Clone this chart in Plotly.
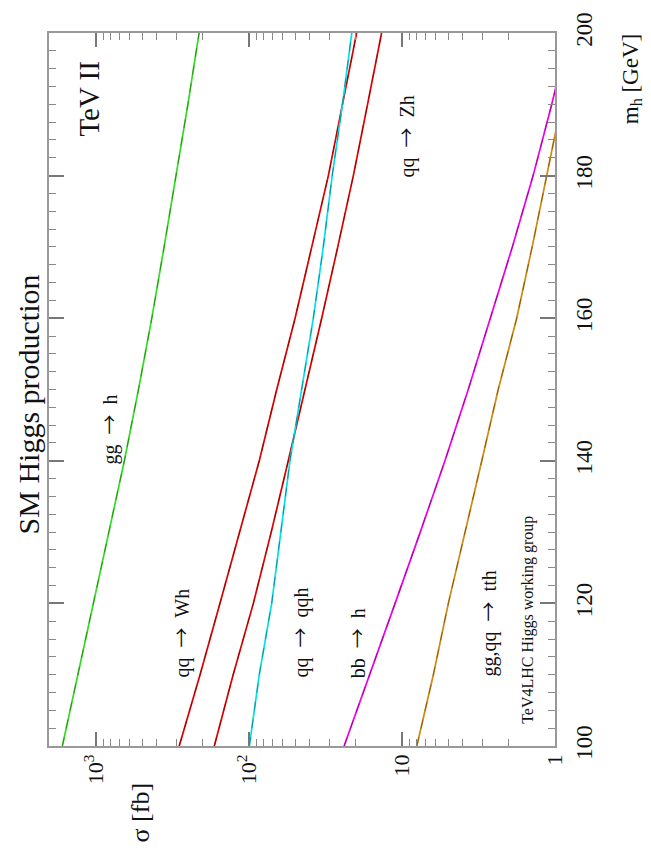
import numpy as np
import plotly.graph_objects as go

# Higgs mass grid (GeV)
mh = [100, 110, 120, 130, 140, 150, 160, 170, 180, 190, 200]

# Cross sections sigma [fb]
gg_h   = [1660, 1318, 1047, 822, 653, 528, 432, 359, 300, 251, 212]
qq_Wh  = [286, 209, 155, 115, 85.7, 65.9, 50.0, 38.9, 30.3, 24.5, 19.8]
qq_Zh  = [168.6, 127, 93.7, 71.6, 55.4, 43.0, 33.5, 26.3, 20.8, 16.8, 13.6]
qq_qqh = [99.5, 85.7, 71.1, 61.7, 54.0, 45.3, 38.0, 32.7, 28.6, 24.5, 21.3]
bb_h   = [23.9, 16.2, 11.1, 7.6, 5.24, 3.69, 2.66, 1.90, 1.39, 1.05, 0.81]
tt_h   = [8.0, 6.24, 4.98, 3.85, 3.01, 2.35, 1.78, 1.41, 1.13, 0.91, 0.74]

series = [
    (gg_h,   "#33dd22"),
    (qq_Wh,  "#e00000"),
    (qq_Zh,  "#e00000"),
    (qq_qqh, "#00e0ee"),
    (bb_h,   "#ee00ee"),
    (tt_h,   "#d08a10"),
]

sigma_ticks = [1, 10, 100, 1000]
sigma_ticktext = ["1", "10", "10<sup>2</sup>", "10<sup>3</sup>"]
sigma_minor = [v * d for d in (1, 10, 100, 1000) for v in range(2, 10) if v * d <= 2000]
mh_ticks = [100, 120, 140, 160, 180, 200]

FONT = "Liberation Serif"
ARROW = " \u00a0<span style=\"font-family:'Noto Sans CJK SC'\">→</span>\u00a0 "

fig = go.Figure()
for vals, col in series:
    fig.add_trace(go.Scatter(x=vals, y=mh, mode="lines",
                             line=dict(color=col, width=1.7),
                             hoverinfo="skip", showlegend=False))
    fig.add_trace(go.Scatter(x=vals, y=mh, mode="lines",
                             line=dict(color="rgba(40,10,0,0.55)", width=0.7,
                                       dash="dash"),
                             hoverinfo="skip", showlegend=False))

# (text, x [log10 sigma or paper], y [m_h], size, xref)
labels = [
    ("SM Higgs production", -0.0415, 147.9, 30, "paper"),
    ("TeV II", 3.046, 190.8, 29, "x"),
    ("gg" + ARROW + "h", 2.922, 144.4, 20, "x"),
    ("qq" + ARROW + "Wh", 2.451, 115.8, 20, "x"),
    ("qq" + ARROW + "qqh", 1.667, 115.9, 20, "x"),
    ("bb" + ARROW + "h", 1.301, 114.4, 20, "x"),
    ("gg,qq" + ARROW + "tth", 0.444, 117.2, 20, "x"),
    ("TeV4LHC Higgs working group", 0.176, 117.7, 16, "x"),
    ("qq" + ARROW + "Zh", 0.980, 185.5, 20, "x"),
]
for text, xv, yv, size, xr in labels:
    fig.add_annotation(x=xv, y=yv, xref=xr, yref="y", text=text,
                       textangle=-90, showarrow=False,
                       xanchor="center", yanchor="middle",
                       font=dict(family=FONT, size=size, color="#111"))

# axis titles
fig.add_annotation(x=2.712, y=-0.093, xref="x", yref="paper", text="σ [fb]",
                   textangle=-90, showarrow=False,
                   xanchor="center", yanchor="middle",
                   font=dict(family=FONT, size=26, color="#111"))
fig.add_annotation(x=1.152, y=193.5, xref="paper", yref="y",
                   text="m<sub>h</sub> [GeV]", textangle=-90, showarrow=False,
                   xanchor="center", yanchor="middle",
                   font=dict(family=FONT, size=23, color="#111"))

fig.update_xaxes(type="log", range=[np.log10(2030), 0],
                 tickmode="array", tickvals=sigma_ticks, ticktext=sigma_ticktext,
                 tickangle=-90, ticks="inside", ticklen=14, tickwidth=1.5,
                 tickcolor="#777", mirror="ticks", showline=True,
                 linecolor="#999", linewidth=1.5, showgrid=False, zeroline=False,
                 tickfont=dict(family=FONT, size=22, color="#111"),
                 ticklabelstandoff=-2,
                 minor=dict(tickmode="array", tickvals=sigma_minor, ticks="inside",
                            ticklen=7, tickwidth=1.2, tickcolor="#888",
                            showgrid=False))
fig.update_yaxes(range=[100, 200], side="right",
                 tickmode="array", tickvals=mh_ticks,
                 tickangle=-90, ticks="inside", ticklen=15, tickwidth=1.5,
                 tickcolor="#777", mirror="ticks", showline=True,
                 linecolor="#999", linewidth=1.5, showgrid=False, zeroline=False,
                 tickfont=dict(family=FONT, size=23, color="#111"),
                 ticklabelstandoff=8,
                 minor=dict(dtick=2.5, ticks="inside", ticklen=7, tickwidth=1.2,
                            tickcolor="#888", showgrid=False))

fig.update_layout(width=651, height=856,
                  margin=dict(l=49, r=96, t=23, b=110),
                  paper_bgcolor="white", plot_bgcolor="white",
                  showlegend=False)

fig.write_html("out.html")
